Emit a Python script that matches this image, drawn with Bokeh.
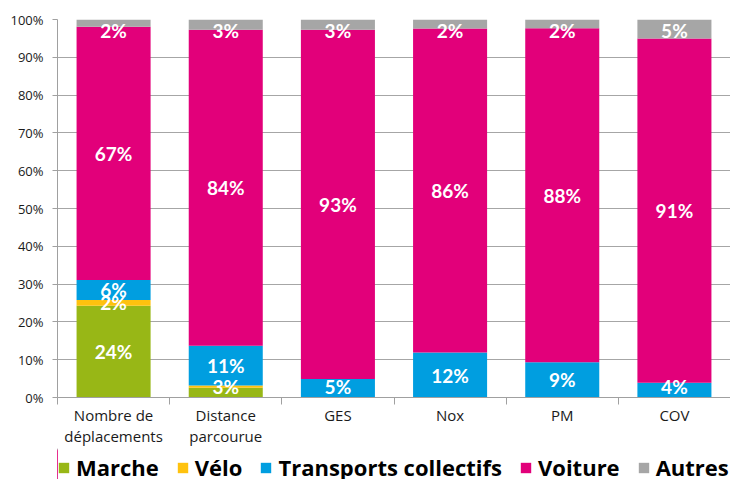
import numpy as np
from bokeh.plotting import figure
from bokeh.layouts import column
from bokeh.models import (ColumnDataSource, FixedTicker, Legend, LegendItem,
                          PrintfTickFormatter, Range1d)
from bokeh.core.properties import value
from bokeh.embed import file_html
from bokeh.resources import INLINE

categories = ["Nombre de\ndéplacements", "Distance\nparcourue", "GES", "Nox", "PM", "COV"]
series = ["Marche", "Vélo", "Transports collectifs", "Voiture", "Autres"]
colors = ["#98B716", "#FFC20E", "#009EE0", "#E2007A", "#A6A6A6"]

marche = [24.3, 2.6, 0, 0, 0, 0]
velo = [1.5, 0.6, 0, 0, 0, 0]
tc = [5.3, 10.5, 4.9, 11.9, 9.3, 3.9]
voiture = [67.0, 83.6, 92.4, 85.7, 88.4, 91.1]
autres = [1.9, 2.7, 2.7, 2.4, 2.3, 5.0]

marche_lbl = ["24%", "3%", "", "", "", ""]
velo_lbl = ["2%", "", "", "", "", ""]
tc_lbl = ["6%", "11%", "5%", "12%", "9%", "4%"]
voiture_lbl = ["67%", "84%", "93%", "86%", "88%", "91%"]
autres_lbl = ["2%", "3%", "3%", "2%", "2%", "5%"]

FONT = "Open Sans"
LFONT = "Lato"
xs = [i + 0.5 for i in range(len(categories))]
keys = ["marche", "velo", "tc", "voiture", "autres"]
src = ColumnDataSource(dict(x=xs, marche=marche, velo=velo, tc=tc, voiture=voiture, autres=autres))

p = figure(frame_width=673, frame_height=378, output_backend="svg", toolbar_location=None,
           x_range=Range1d(0, len(categories)), y_range=Range1d(0, 100),
           min_border_left=57, min_border_right=0, min_border_top=19, min_border_bottom=0)
p.outline_line_color = None
p.background_fill_color = "white"

rs = p.vbar_stack(keys, x="x", width=0.66, color=colors, source=src, line_color=None)

# labels
vals = [marche, velo, tc, voiture, autres]
lbls = [marche_lbl, velo_lbl, tc_lbl, voiture_lbl, autres_lbl]
lx, ly, lt = [], [], []
for i in range(len(categories)):
    base = 0.0
    for s in range(len(vals)):
        v = vals[s][i]
        c = base + v / 2.0
        base += v
        if lbls[s][i]:
            lx.append(xs[i])
            ly.append(min(max(c, 2.8), 97.2))
            lt.append(lbls[s][i])
p.text(x=lx, y=ly, text=lt, text_color="white", text_font=value(LFONT),
       text_font_style="bold", text_font_size="19px", text_align="center",
       text_baseline="middle")

# axes
xa = p.xaxis[0]
xa.ticker = FixedTicker(ticks=xs, minor_ticks=list(range(len(categories) + 1)))
xa.major_label_overrides = {x: c for x, c in zip(xs, categories)}
xa.major_tick_line_color = None
xa.major_tick_out = 0
xa.major_tick_in = 0
xa.minor_tick_out = 7
xa.minor_tick_in = 0
xa.minor_tick_line_color = "#A0A0A0"
xa.axis_line_color = "#A0A0A0"
xa.major_label_text_font = FONT
xa.major_label_text_font_size = "15px"
xa.major_label_text_line_height = 1.05
xa.major_label_text_color = "#1a1a1a"
xa.major_label_standoff = 0

ya = p.yaxis[0]
ya.ticker = FixedTicker(ticks=list(range(0, 101, 10)), minor_ticks=[])
ya.formatter = PrintfTickFormatter(format="%d%%")
ya.major_tick_out = 5
ya.major_tick_in = 0
ya.major_tick_line_color = "#A0A0A0"
ya.axis_line_color = "#A0A0A0"
ya.major_label_text_font = FONT
ya.major_label_text_font_size = "13px"
ya.major_label_text_color = "#1a1a1a"
ya.major_label_standoff = 9

p.xgrid.grid_line_color = None
p.ygrid.grid_line_color = "#A6A6A6"
p.ygrid.ticker = FixedTicker(ticks=list(range(0, 101, 10)))

# legend strip (same stacked series, drawn outside its visible range)
p2 = figure(frame_width=673, height=39, output_backend="svg", toolbar_location=None,
            x_range=Range1d(100, 101), y_range=Range1d(0, 100),
            min_border_left=57, min_border_right=0, min_border_top=0, min_border_bottom=0,
            x_axis_location=None, y_axis_location=None)
p2.grid.visible = False
p2.outline_line_color = None
rs2 = p2.vbar_stack(keys, x="x", width=0.66, color=colors, source=src, line_color=None)
legend = Legend(items=[LegendItem(label=s, renderers=[r]) for s, r in zip(series, rs2)],
                orientation="horizontal", location=(0, 5),
                label_text_font=FONT, label_text_font_style="bold",
                label_text_font_size="22px", label_text_color="black",
                glyph_width=13, glyph_height=13, label_standoff=6, spacing=17,
                border_line_color=None, padding=0, margin=0, background_fill_alpha=0)
p2.add_layout(legend, "center")

layout = column(p, p2, spacing=0)
open("out.html", "w").write(file_html(layout, INLINE))
